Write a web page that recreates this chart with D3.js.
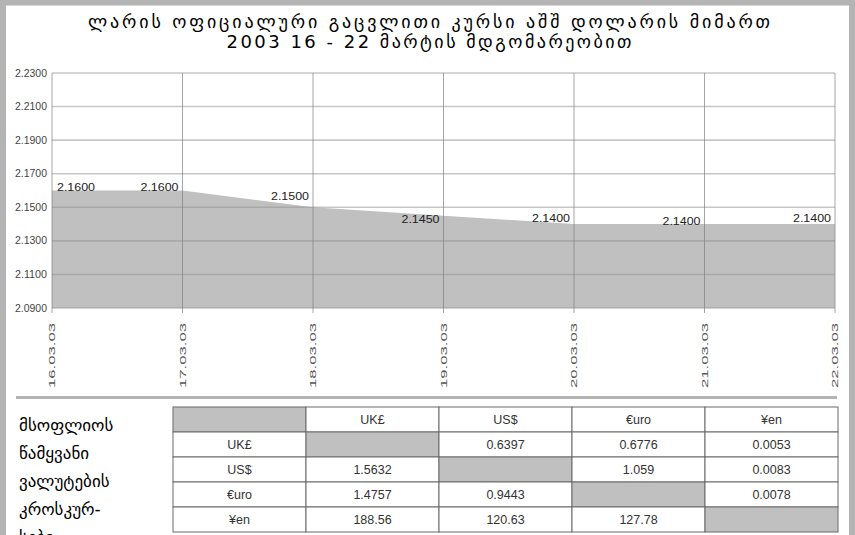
<!DOCTYPE html>
<html>
<head>
<meta charset="utf-8">
<script src="https://cdn.jsdelivr.net/npm/d3@7"></script>
<style>
body { margin:0; overflow:hidden; background:#fff; }
svg { display:block; }
</style>
</head>
<body>
<svg id="chart" width="855" height="535"></svg>
<script>
// chart data
var titleLines = ["ლარის ოფიციალური გაცვლითი კურსი აშშ დოლარის მიმართ", "2003 16 - 22 მარტის მდგომარეობით"]
var dates = ["16.03.03","17.03.03","18.03.03","19.03.03","20.03.03","21.03.03","22.03.03"]
var rates = [2.16, 2.16, 2.15, 2.145, 2.14, 2.14, 2.14]
var yTicks = [2.09, 2.11, 2.13, 2.15, 2.17, 2.19, 2.21, 2.23]

// cross rates table
var sideText = ["მსოფლიოს","წამყვანი","ვალუტების","კროსკურ-","სები"]
var currencies = ["UK£","US$","€uro","¥en"]
var crossRates = [
	[null, 0.6397, 0.6776, 0.0053],
	[1.5632, null, 1.059, 0.0083],
	[1.4757, 0.9443, null, 0.0078],
	[188.56, 120.63, 127.78, null]
]

var svg = d3.select("#chart")
var geo = "'DejaVu Sans', sans-serif"
var arial = "'Liberation Sans', Arial, sans-serif"

// grey frame
svg.append("rect").attr("x",3).attr("y",2.5).attr("width",849).attr("height",540)
	.attr("fill","none").attr("stroke","#b4b4b4").attr("stroke-width",6)

// title
svg.selectAll(".title").data(titleLines).enter().append("text")
	.attr("x",429).attr("y",function(d,i){ return 28 + i*20 })
	.attr("text-anchor","middle")
	.attr("textLength",function(d,i){ return i==0 ? 682 : 405 })
	.attr("lengthAdjust","spacing")
	.style("font-family",geo).style("font-size","18px").attr("fill","#000")
	.text(function(d){ return d })

var x = d3.scalePoint().domain(dates).range([52,835])
var y = d3.scaleLinear().domain([2.09,2.23]).range([308,73])

// area
var area = d3.area()
	.x(function(d,i){ return x(dates[i]) })
	.y0(y(2.09))
	.y1(function(d){ return y(d) })
svg.append("path").datum(rates).attr("d",area).attr("fill","#c0c0c0")

// horizontal grid
svg.selectAll(".hgrid").data(yTicks).enter().append("line")
	.attr("x1",52).attr("x2",835)
	.attr("y1",function(d){ return y(d) }).attr("y2",function(d){ return y(d) })
	.attr("stroke","#909090").attr("stroke-opacity",0.5).attr("stroke-width",1.6)

// vertical grid
svg.selectAll(".vgrid").data(dates).enter().append("line")
	.attr("x1",function(d){ return x(d) }).attr("x2",function(d){ return x(d) })
	.attr("y1",73).attr("y2",313)
	.attr("stroke","#808080").attr("stroke-opacity",0.7).attr("stroke-width",1)

// y axis labels
svg.selectAll(".ylab").data(yTicks).enter().append("text")
	.attr("x",47).attr("y",function(d){ return y(d) + 3.5 })
	.attr("text-anchor","end")
	.attr("textLength",32).attr("lengthAdjust","spacingAndGlyphs")
	.style("font-family",arial).style("font-size","10px").attr("fill","#444")
	.text(function(d){ return d3.format(".4f")(d) })

// x axis labels, rotated
svg.selectAll(".xlab").data(dates).enter().append("text")
	.attr("transform",function(d){ return "translate(" + (x(d)+3) + ",323) rotate(-90)" })
	.attr("text-anchor","end")
	.attr("textLength",65).attr("lengthAdjust","spacingAndGlyphs")
	.style("font-family",arial).style("font-size","9.5px").attr("fill","#555")
	.text(function(d){ return d })

// data labels
var labelShift = [0, 0, -7, 7, -2, 1, -2]
svg.selectAll(".vlab").data(rates).enter().append("text")
	.attr("x",function(d,i){ return i==0 ? x(dates[i]) + 5 : x(dates[i]) - 4 })
	.attr("y",function(d,i){ return y(d) + labelShift[i] })
	.attr("text-anchor",function(d,i){ return i==0 ? "start" : "end" })
	.attr("textLength",38).attr("lengthAdjust","spacingAndGlyphs")
	.style("font-family",arial).style("font-size","11.5px").attr("fill","#222")
	.text(function(d){ return d3.format(".4f")(d) })

// separator
svg.append("line").attr("x1",16).attr("x2",837).attr("y1",397.5).attr("y2",397.5)
	.attr("stroke","#b4b4b4").attr("stroke-width",3)

// side text
svg.selectAll(".side").data(sideText).enter().append("text")
	.attr("x",19).attr("y",function(d,i){ return 431 + i*28 })
	.style("font-family",geo).style("font-size","17px").attr("fill","#000")
	.text(function(d){ return d })

// table
var colX = d3.scaleBand().domain(d3.range(5)).range([173,838])
var rowY = d3.scaleBand().domain(d3.range(5)).range([407,532])
var cells = []
for (var r=0; r<5; r++) {
	for (var c=0; c<5; c++) {
		var txt = "", grey = false
		if (r==0 && c==0) grey = true
		else if (r==0) txt = currencies[c-1]
		else if (c==0) txt = currencies[r-1]
		else if (crossRates[r-1][c-1] == null) grey = true
		else txt = String(crossRates[r-1][c-1])
		cells.push({r:r, c:c, txt:txt, grey:grey})
	}
}
svg.selectAll(".cell").data(cells).enter().append("rect")
	.attr("x",function(d){ return colX(d.c) }).attr("y",function(d){ return rowY(d.r) })
	.attr("width",colX.bandwidth()).attr("height",rowY.bandwidth())
	.attr("fill",function(d){ return d.grey ? "#c0c0c0" : "#fff" })
	.attr("stroke","#6a6a6a").attr("stroke-width",1)
svg.selectAll(".ctext").data(cells.filter(function(d){ return d.txt })).enter().append("text")
	.attr("x",function(d){ return colX(d.c) + colX.bandwidth()/2 })
	.attr("y",function(d){ return rowY(d.r) + 17 })
	.attr("text-anchor","middle")
	.style("font-family",arial).style("font-size","12.5px").attr("fill","#333")
	.text(function(d){ return d.txt })
</script>
</body>
</html>
